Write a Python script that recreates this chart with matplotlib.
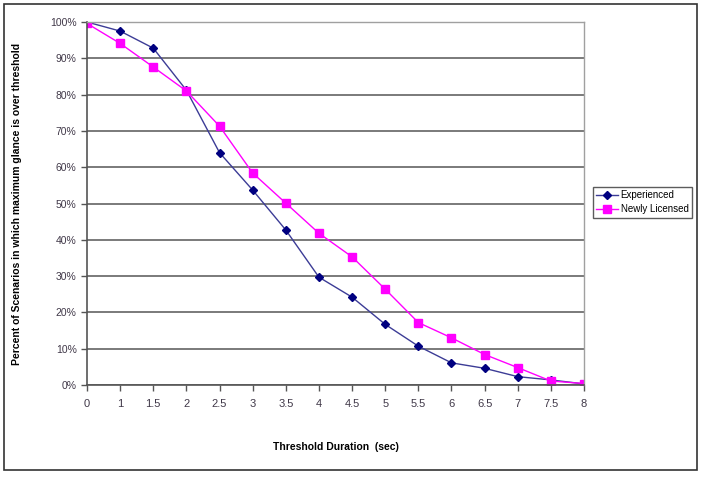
import matplotlib.pyplot as plt
import numpy as np
from matplotlib.patches import Rectangle

plt.rcParams['font.family'] = ['Liberation Sans', 'DejaVu Sans']

thresholds = ['0', '1', '1.5', '2', '2.5', '3', '3.5', '4', '4.5', '5', '5.5', '6', '6.5', '7', '7.5', '8']
experienced = [100, 97.5, 92.8, 81.2, 64.0, 53.7, 42.7, 29.7, 24.2, 16.7, 10.7, 6.1, 4.6, 2.3, 1.4, 0.3]
newly = [99.6, 94.1, 87.6, 81.0, 71.3, 58.4, 50.1, 41.8, 35.3, 26.4, 17.2, 13.0, 8.4, 4.8, 1.1, 0.4]

fig = plt.figure(figsize=(7.01, 4.80), dpi=100)
# outer chart border
fig.patches.append(Rectangle((4 / 701, 10 / 480), 693 / 701, 466 / 480, transform=fig.transFigure,
                             fill=False, edgecolor='#333333', linewidth=1.2))
ax = fig.add_axes([87 / 701, 1 - 385 / 480, 497 / 701, 363 / 480])

x = np.arange(len(thresholds))
ax.plot(x, experienced, color='#3c3c96', linewidth=1, marker='D', markersize=4,
        markerfacecolor='#000080', markeredgecolor='#000080', label='Experienced')
ax.plot(x, newly, color='#ff00ff', linewidth=1, marker='s', markersize=6,
        markerfacecolor='#ff00ff', markeredgecolor='#ff00ff', label='Newly Licensed')

ax.set_xlim(0, len(thresholds) - 1)
ax.set_ylim(0, 100)
ax.set_xticks(x)
ax.set_xticklabels(thresholds)
ax.set_yticks(np.arange(0, 101, 10))
ax.set_yticklabels(['%d%%' % v for v in range(0, 101, 10)])
ax.tick_params(labelsize=7.5, labelcolor='#403848', color='#555555', length=4, width=1)
ax.tick_params(axis='x', pad=6, labelsize=8)
ax.grid(axis='y', color='#707070', linewidth=1.3)
ax.set_axisbelow(True)
for side in ['top', 'right']:
    ax.spines[side].set_color('#a0a0a0')
    ax.spines[side].set_linewidth(1)
for side in ['left', 'bottom']:
    ax.spines[side].set_color('#555555')
    ax.spines[side].set_linewidth(1.2)

ax.set_xlabel('Threshold Duration  (sec)', fontsize=7.5, fontweight='bold', labelpad=24)
ax.set_ylabel('Percent of Scenarios in which maximum glance is over threshold', fontsize=7.5,
              fontweight='bold', labelpad=20)

leg = fig.legend(loc='upper left', bbox_to_anchor=(593 / 701, 1 - 187 / 480), fontsize=7,
                 frameon=True, fancybox=False, edgecolor='#333333', handlelength=2.2,
                 borderpad=0.35, labelspacing=0.4, handletextpad=0.3, borderaxespad=0)
leg.get_frame().set_linewidth(1)

fig.savefig('out.png', dpi=100)
